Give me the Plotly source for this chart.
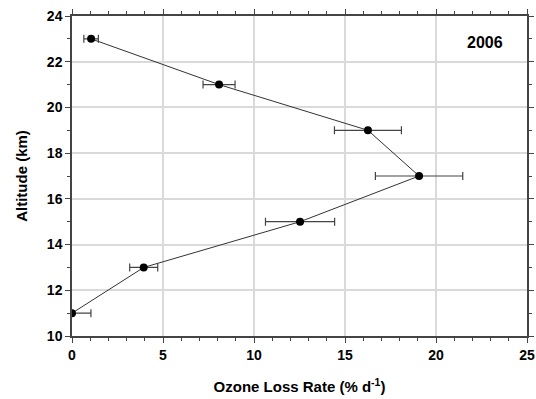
import plotly.graph_objects as go

altitude = [23, 21, 19, 17, 15, 13, 11]
loss_rate = [1.05, 8.08, 16.26, 19.07, 12.53, 3.94, 0.0]
loss_err = [0.4, 0.88, 1.84, 2.4, 1.9, 0.77, 1.04]

fig = go.Figure()
fig.add_trace(go.Scatter(
    x=loss_rate, y=altitude, mode="lines+markers",
    line=dict(color="#333333", width=1),
    marker=dict(color="black", size=8),
    error_x=dict(type="data", array=loss_err, visible=True, color="#444444",
                 thickness=1.2, width=4),
    cliponaxis=True,
))

font = dict(family="Liberation Sans, Arial, sans-serif", size=13, color="black")
axis_common = dict(
    showline=True, linecolor="#444444", linewidth=1.5, mirror="ticks",
    ticks="outside", ticklen=5, tickcolor="#444444", tickwidth=1,
    showgrid=True, gridcolor="#dadada", gridwidth=1.5, zeroline=False,
    automargin=False,
)
fig.update_layout(
    width=536, height=399,
    margin=dict(l=72, r=9, t=16, b=63),
    paper_bgcolor="white", plot_bgcolor="white",
    showlegend=False,
    font=font,
    xaxis=dict(range=[0, 25], dtick=5, tick0=0,
               title=dict(text="<b>Ozone Loss Rate (% d<sup>-1</sup>)</b>", font=dict(size=15), standoff=20),
               tickfont=dict(size=14, weight="bold"),
               minor=dict(dtick=1, ticks="outside", ticklen=3, tickcolor="#444444", showgrid=False),
               **axis_common),
    yaxis=dict(range=[10, 24], dtick=2, tick0=10,
               title=dict(text="<b>Altitude (km)</b>", font=dict(size=15), standoff=16),
               tickfont=dict(size=14, weight="bold"),
               minor=dict(dtick=1, ticks="outside", ticklen=3, tickcolor="#444444", showgrid=False),
               **axis_common),
    annotations=[dict(text="<b>2006</b>", x=0.952, y=0.916, xref="paper", yref="paper",
                      xanchor="right", yanchor="middle", showarrow=False,
                      font=dict(size=16, color="black"))],
)
fig.write_html("out.html", config={"displayModeBar": False},
               post_script="document.body.style.margin='0';document.body.style.overflow='hidden';")
